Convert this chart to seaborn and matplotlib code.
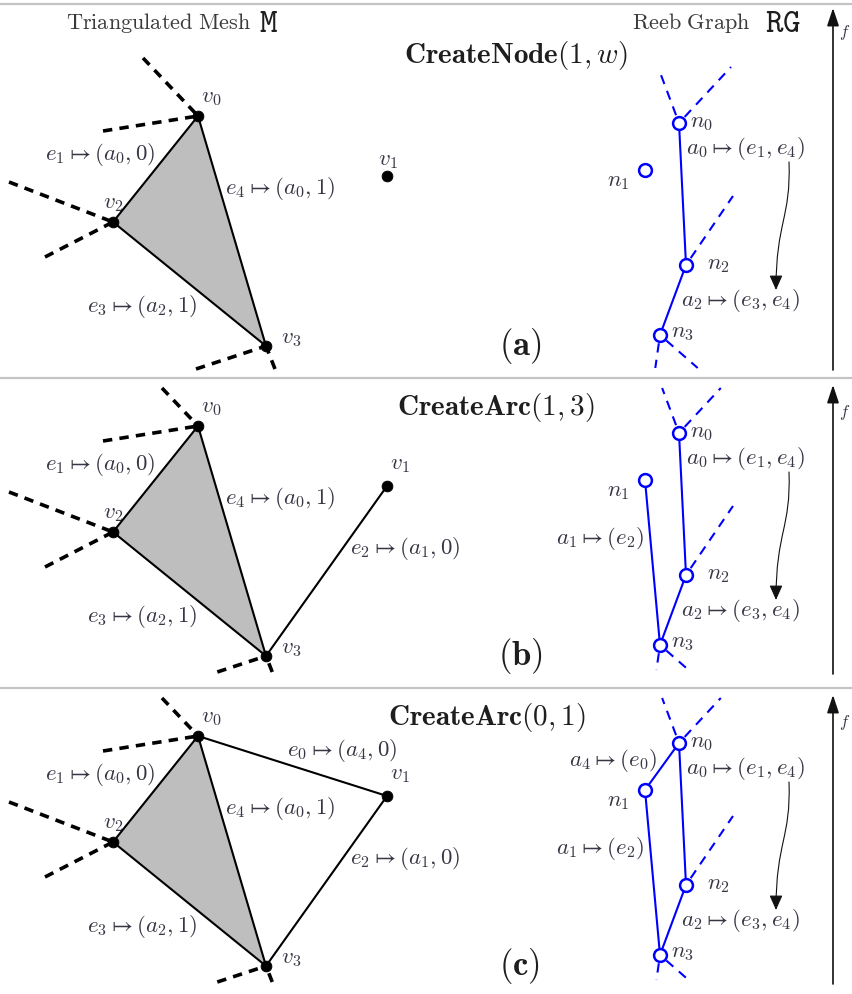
import numpy as np
import pandas as pd
import seaborn as sns
from matplotlib import pyplot as plt
from matplotlib.path import Path
from matplotlib.patches import FancyArrowPatch

sns.set_theme(style="white")
plt.rcParams['mathtext.fontset'] = 'cm'
plt.rcParams['font.family'] = ['DejaVu Serif']

# pixel layout of panel (a); panels (b), (c) are shifted down
panel_shift = [0, 310, 620]
panel_titles = [r"$\mathbf{CreateNode}(1,w)$", r"$\mathbf{CreateArc}(1,3)$", r"$\mathbf{CreateArc}(0,1)$"]
title_x = [516, 496, 487]
title_y = [55, 98, 98]
panel_tags = [r"$\mathbf{(a)}$", r"$\mathbf{(b)}$", r"$\mathbf{(c)}$"]
# vertical extent (relative) that stubs and the f axis keep to
panel_top = [0, 78, 78]
panel_bottom = [370, 362, 362]
f_top = [8, 75, 75]
f_label_y = [33, 103, 103]

# mesh vertices v0..v3
mesh_x = [198, 387, 113, 266]
mesh_y = [116, 176, 222, 346]
# reeb graph nodes n0..n3
reeb_x = [679, 645, 686, 660]
reeb_y = [123, 170, 265, 335]

# edges per panel (vertex index pairs)
mesh_edges = [[(0, 2), (0, 3), (2, 3)],
              [(0, 2), (0, 3), (2, 3), (1, 3)],
              [(0, 2), (0, 3), (2, 3), (1, 3), (0, 1)]]
reeb_arcs = [[(0, 2), (2, 3)],
             [(0, 2), (2, 3), (1, 3)],
             [(0, 2), (2, 3), (1, 3), (0, 1)]]

# dashed stubs: (vertex, far end x, far end y)
mesh_stubs = [(0, 143, 58), (0, 103, 131), (2, 9, 182), (2, 45, 257), (3, 196, 369), (3, 275, 369)]
reeb_stubs = [(0, 661, 75), (0, 731, 67), (2, 733, 196), (3, 655, 370), (3, 700, 370)]

# labels common to all panels: text, x, y
common_labels = [(r"$v_0$", 211, 97), (r"$e_1 \mapsto (a_0,0)$", 100, 155), (r"$v_2$", 113, 203),
                 (r"$e_4 \mapsto (a_0,1)$", 280, 189), (r"$e_3 \mapsto (a_2,1)$", 142, 306),
                 (r"$v_3$", 291, 338), (r"$n_0$", 702, 122), (r"$a_0 \mapsto (e_1,e_4)$", 745, 148),
                 (r"$n_1$", 618, 181), (r"$n_2$", 718, 264), (r"$a_2 \mapsto (e_3,e_4)$", 740, 300),
                 (r"$n_3$", 683, 332)]
extra_labels = [[(r"$v_1$", 388, 160)],
                [(r"$v_1$", 400, 154), (r"$e_2 \mapsto (a_1,0)$", 405, 238), (r"$a_1 \mapsto (e_2)$", 600, 228)],
                [(r"$v_1$", 400, 154), (r"$e_2 \mapsto (a_1,0)$", 405, 238), (r"$a_1 \mapsto (e_2)$", 600, 228),
                 (r"$e_0 \mapsto (a_4,0)$", 342, 130), (r"$a_4 \mapsto (e_0)$", 613, 140)]]

txt_col = '#363645'


def clip_end(x0, y0, x1, y1, lo, hi):
    # shorten the segment so its far end stays between lo and hi
    t = 1.0
    if y1 < lo:
        t = (lo - y0) / (y1 - y0)
    elif y1 > hi:
        t = (hi - y0) / (y1 - y0)
    return x0 + t * (x1 - x0), y0 + t * (y1 - y0)


fig = plt.figure(figsize=(8.52, 9.94), dpi=100)
ax = fig.add_axes([0, 0, 1, 1])

# separators
for y in [4, 378, 688]:
    ax.plot([0, 852], [y, y], color='#c4c4c4', lw=1.6, zorder=1)

solid_rows, blue_rows, mdash_rows, bdash_rows, dots, nodes = [], [], [], [], [], []
k = 0
for p, dy in enumerate(panel_shift):
    # shaded face v0 v2 v3
    ax.fill([mesh_x[0], mesh_x[2], mesh_x[3]], [mesh_y[0] + dy, mesh_y[2] + dy, mesh_y[3] + dy],
            color='#bebebe', lw=0, zorder=2)
    for a, b in mesh_edges[p]:
        solid_rows += [(mesh_x[a], mesh_y[a] + dy, k), (mesh_x[b], mesh_y[b] + dy, k)]
        k += 1
    for a, b in reeb_arcs[p]:
        blue_rows += [(reeb_x[a], reeb_y[a] + dy, k), (reeb_x[b], reeb_y[b] + dy, k)]
        k += 1
    for v, ex, ey in mesh_stubs:
        # drawn from the outer end inwards so the dash pattern starts at the open end
        cx, cy = clip_end(mesh_x[v], mesh_y[v], ex, ey, panel_top[p], panel_bottom[p])
        mdash_rows += [(cx, cy + dy, k), (mesh_x[v], mesh_y[v] + dy, k)]
        k += 1
    for v, ex, ey in reeb_stubs:
        cx, cy = clip_end(reeb_x[v], reeb_y[v], ex, ey, panel_top[p], panel_bottom[p] - 2)
        bdash_rows += [(reeb_x[v], reeb_y[v] + dy, k), (cx, cy + dy, k)]
        k += 1
    dots += [(x, y + dy) for x, y in zip(mesh_x, mesh_y)]
    nodes += [(x, y + dy) for x, y in zip(reeb_x, reeb_y)]

    ax.text(title_x[p], title_y[p] + dy, panel_titles[p], fontsize=21, ha='center', va='center', color='#1e1e1e')
    ax.text(520, 346 + dy, panel_tags[p], fontsize=25, ha='center', va='center', color='#1e1e1e')
    for s, x, y in common_labels + extra_labels[p]:
        ax.text(x, y + dy, s, fontsize=16.5, ha='center', va='center', color=txt_col)

    # curved mapping arrow
    verts = [(789, 162 + dy), (791, 218 + dy), (776, 222 + dy), (776, 290 + dy)]
    curve = FancyArrowPatch(path=Path(verts, [Path.MOVETO, Path.CURVE4, Path.CURVE4, Path.CURVE4]),
                            arrowstyle='-|>,head_length=9,head_width=4', color='#111111', lw=0.8)
    ax.add_patch(curve)
    # f axis
    ax.annotate('', xy=(833, f_top[p] + dy), xytext=(833, 370 + dy if p == 0 else 364 + dy),
                arrowprops=dict(arrowstyle='-|>,head_length=0.9,head_width=0.3', color='#111111', lw=1.2,
                                shrinkA=0, shrinkB=0))
    ax.text(845, f_label_y[p] + dy, r"$f$", fontsize=12, ha='center', va='center', color=txt_col)

cols = ['x', 'y', 'seg']
sns.lineplot(data=pd.DataFrame(solid_rows, columns=cols), x='x', y='y', units='seg', estimator=None,
             sort=False, color='black', lw=1.5, ax=ax, zorder=3)
sns.lineplot(data=pd.DataFrame(mdash_rows, columns=cols), x='x', y='y', units='seg', estimator=None,
             sort=False, color='black', lw=2.6, linestyle=(0, (2.6, 2.0)), ax=ax, zorder=3)
sns.lineplot(data=pd.DataFrame(blue_rows, columns=cols), x='x', y='y', units='seg', estimator=None,
             sort=False, color='#0000ff', lw=1.5, ax=ax, zorder=3)
sns.lineplot(data=pd.DataFrame(bdash_rows, columns=cols), x='x', y='y', units='seg', estimator=None,
             sort=False, color='#0000ff', lw=1.5, linestyle=(4, (4.5, 3.5)), ax=ax, zorder=3)

dots = np.array(dots)
nodes = np.array(nodes)
sns.scatterplot(x=dots[:, 0], y=dots[:, 1], s=60, color='black', edgecolor='black', ax=ax, zorder=5)
sns.scatterplot(x=nodes[:, 0], y=nodes[:, 1], s=85, color='white', edgecolor='#0000ff', linewidth=1.8,
                ax=ax, zorder=5)

# column headers
ax.text(159, 23, r"$\mathrm{Triangulated\ Mesh}$", fontsize=16, ha='center', va='center', color='#3a3a3a')
ax.text(269, 23, r"$\mathtt{M}$", fontsize=24, ha='center', va='center', color='#1e1e1e')
ax.text(691, 23, r"$\mathrm{Reeb\ Graph}$", fontsize=16, ha='center', va='center', color='#3a3a3a')
ax.text(783, 23, r"$\mathtt{RG}$", fontsize=24, ha='center', va='center', color='#1e1e1e')

ax.set_xlim(0, 852)
ax.set_ylim(994, 0)
ax.axis('off')
fig.savefig('out.png', dpi=100)
